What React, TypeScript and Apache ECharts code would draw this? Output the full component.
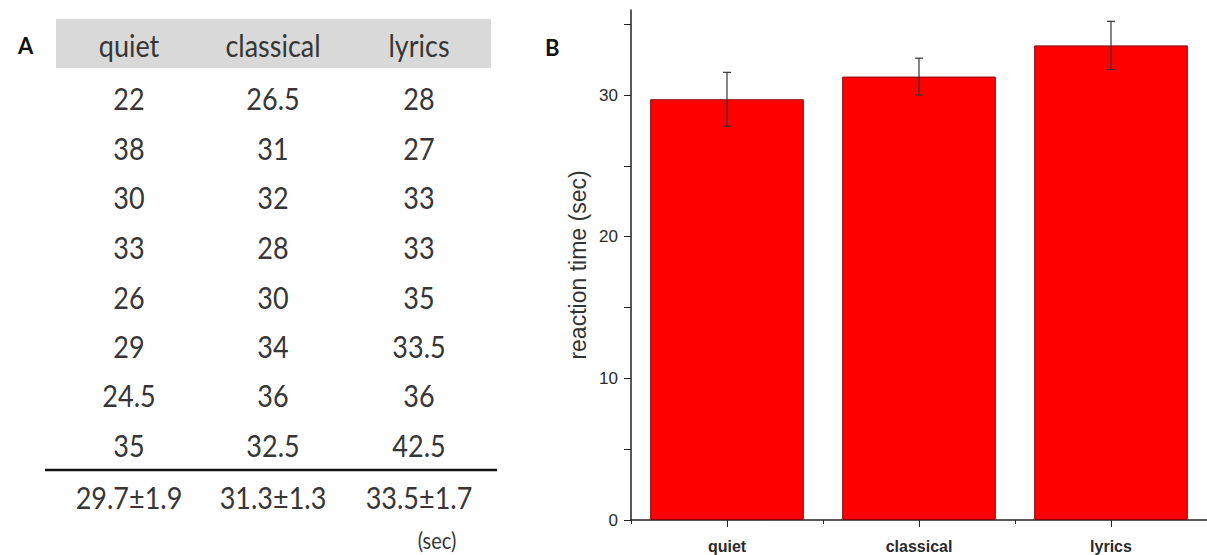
import React, { useEffect, useRef } from "react";
import * as echarts from "echarts";

const categories = ["quiet", "classical", "lyrics"];
const quietTimes = ["22", "38", "30", "33", "26", "29", "24.5", "35"];
const classicalTimes = ["26.5", "31", "32", "28", "30", "34", "36", "32.5"];
const lyricsTimes = ["28", "27", "33", "33", "35", "33.5", "36", "42.5"];
const means = [29.7, 31.3, 33.5];
const errors = [1.9, 1.3, 1.7];
const yTickValues = [0, 5, 10, 15, 20, 25, 30, 35];
const yLabelValues = [0, 10, 20, 30];

export default function App() {
  const ref = useRef<HTMLDivElement>(null);

  useEffect(() => {
    document.body.style.margin = "0";
    const chart = echarts.init(ref.current!, null, { renderer: "svg" });

    const tableFont = "Lato, 'Open Sans', sans-serif";
    const textColor = "#363636";
    const colX = [129, 273, 419];
    const rowY = [98, 148, 197, 247, 297, 346, 395, 445];
    const columns = [quietTimes, classicalTimes, lyricsTimes];
    const cellText = (text: string, x: number, y: number, size = 27) => ({
      type: "text",
      x,
      y,
      scaleY: 1.15,
      style: {
        text,
        font: `${size}px ${tableFont}`,
        fill: textColor,
        align: "center",
        verticalAlign: "middle",
      },
    });

    const graphics: any[] = [];
    graphics.push({
      type: "text",
      left: 18,
      top: 34,
      style: { text: "A", font: `bold 22px ${tableFont}`, fill: "#111" },
    });
    graphics.push({
      type: "rect",
      shape: { x: 56, y: 19, width: 435, height: 49 },
      style: { fill: "#d9d9d9" },
    });
    categories.forEach((c, i) => graphics.push(cellText(c, colX[i], 45)));
    columns.forEach((col, ci) => {
      col.forEach((v, ri) => graphics.push(cellText(v, colX[ci], rowY[ri])));
    });
    graphics.push({
      type: "line",
      shape: { x1: 45, y1: 470, x2: 497, y2: 470 },
      style: { stroke: "#111", lineWidth: 2.5 },
    });
    means.forEach((m, i) =>
      graphics.push(cellText(`${m.toFixed(1)}±${errors[i].toFixed(1)}`, colX[i], 497))
    );
    graphics.push(cellText("(sec)", 437, 540, 20));
    graphics.push({
      type: "text",
      left: 545,
      top: 36,
      style: { text: "B", font: `bold 22px ${tableFont}`, fill: "#111" },
    });

    const axisFont = "'Liberation Sans', Arial, sans-serif";

    const option: any = {
      animation: false,
      backgroundColor: "#fff",
      grid: { left: 631, right: -6, top: 10, bottom: 35 },
      xAxis: [
        {
          type: "category",
          data: categories,
          position: "bottom",
          axisLine: { show: true, lineStyle: { color: "#222", width: 1.5 } },
          axisTick: { show: true, alignWithLabel: true, length: 7, lineStyle: { color: "#222" } },
          axisLabel: {
            color: "#2a2a2a",
            fontFamily: axisFont,
            fontSize: 16,
            fontWeight: "bold",
            margin: 18,
          },
        },
        {
          type: "category",
          data: categories,
          position: "bottom",
          axisLine: { show: false },
          axisTick: { show: true, alignWithLabel: false, length: 4, lineStyle: { color: "#222" } },
          axisLabel: { show: false },
        },
      ],
      yAxis: {
        type: "value",
        min: 0,
        max: 36,
        interval: 5,
        splitLine: { show: false },
        axisLine: { show: true, lineStyle: { color: "#222", width: 1.5 } },
        axisTick: { show: true, length: 7, customValues: yTickValues, lineStyle: { color: "#222" } },
        axisLabel: {
          customValues: yLabelValues,
          color: "#2a2a2a",
          fontFamily: axisFont,
          fontSize: 17,
          margin: 13,
        },
        name: "reaction time (sec)",
        nameLocation: "middle",
        nameGap: 42,
        nameTextStyle: { color: "#333", fontFamily: axisFont, fontSize: 23 },
      },
      series: [
        {
          type: "bar",
          z: 2,
          data: means,
          barCategoryGap: "20%",
          itemStyle: { color: "#ff0000", borderColor: "#8a0000", borderWidth: 1 },
        },
        {
          type: "custom",
          z: 5,
          clip: false,
          data: means.map((m, i) => [i, m, errors[i]]),
          encode: { x: 0, y: 1 },
          renderItem: (params: any, api: any) => {
            const i = api.value(0);
            const m = api.value(1);
            const e = api.value(2);
            const top = api.coord([i, m + e]);
            const bot = api.coord([i, m - e]);
            const w = 4;
            const style = { stroke: "#333", lineWidth: 1.2 };
            return {
              type: "group",
              children: [
                { type: "line", shape: { x1: top[0], y1: top[1], x2: bot[0], y2: bot[1] }, style },
                { type: "line", shape: { x1: top[0] - w, y1: top[1], x2: top[0] + w, y2: top[1] }, style },
                { type: "line", shape: { x1: bot[0] - w, y1: bot[1], x2: bot[0] + w, y2: bot[1] }, style },
              ],
            };
          },
        },
      ],
      graphic: graphics,
    };

    chart.setOption(option);
    return () => chart.dispose();
  }, []);

  return <div ref={ref} style={{ width: 1207, height: 555 }} />;
}
